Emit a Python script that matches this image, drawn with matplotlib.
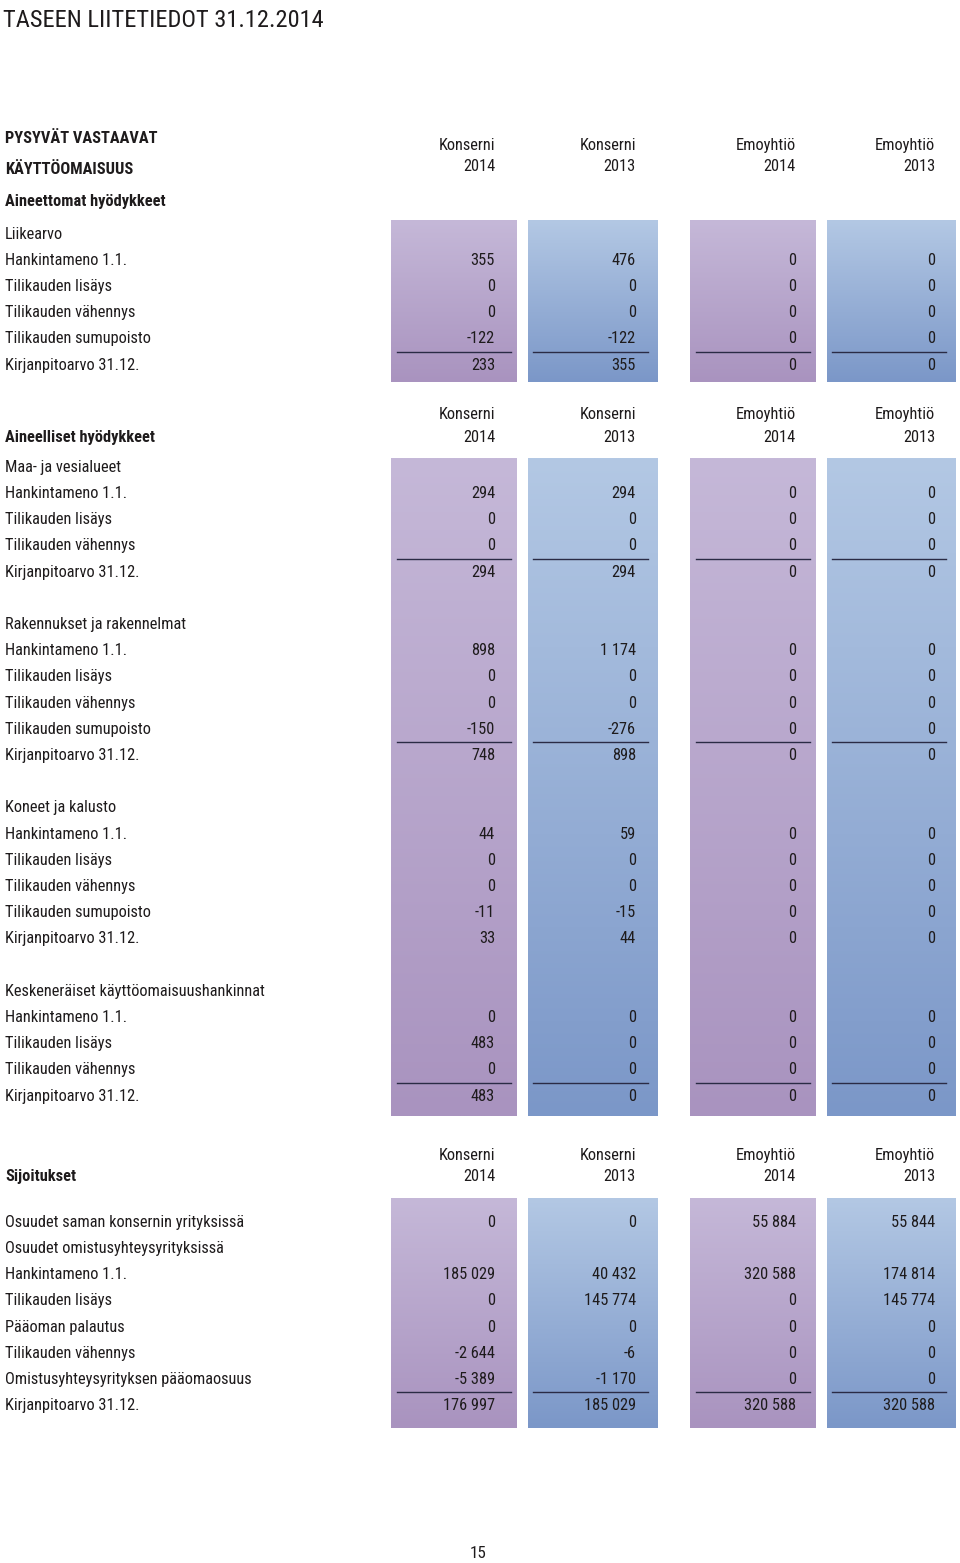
import numpy as np
import matplotlib
matplotlib.use("Agg")
import matplotlib.pyplot as plt
from matplotlib import font_manager
from matplotlib.colors import LinearSegmentedColormap

TITLE = "TASEEN LIITETIEDOT 31.12.2014"
PAGE = "15"

col_group = ["Konserni", "Konserni", "Emoyhtiö", "Emoyhtiö"]
col_year = ["2014", "2013", "2014", "2013"]

# section 1: aineettomat hyodykkeet / liikearvo
s1_heads = ["PYSYVÄT VASTAAVAT", "KÄYTTÖOMAISUUS", "Aineettomat hyödykkeet"]
liikearvo_labels = ["Hankintameno 1.1.", "Tilikauden lisäys", "Tilikauden vähennys",
                    "Tilikauden sumupoisto", "Kirjanpitoarvo 31.12."]
liikearvo_values = [[355, 476, 0, 0], [0, 0, 0, 0], [0, 0, 0, 0],
                    [-122, -122, 0, 0], [233, 355, 0, 0]]

# section 2: aineelliset hyodykkeet
maa_labels = ["Hankintameno 1.1.", "Tilikauden lisäys", "Tilikauden vähennys",
              "Kirjanpitoarvo 31.12."]
maa_values = [[294, 294, 0, 0], [0, 0, 0, 0], [0, 0, 0, 0], [294, 294, 0, 0]]

rak_labels = liikearvo_labels
rak_values = [[898, 1174, 0, 0], [0, 0, 0, 0], [0, 0, 0, 0],
              [-150, -276, 0, 0], [748, 898, 0, 0]]

kon_labels = liikearvo_labels
kon_values = [[44, 59, 0, 0], [0, 0, 0, 0], [0, 0, 0, 0],
              [-11, -15, 0, 0], [33, 44, 0, 0]]

kesk_labels = maa_labels
kesk_values = [[0, 0, 0, 0], [483, 0, 0, 0], [0, 0, 0, 0], [483, 0, 0, 0]]

# section 3: sijoitukset
sij_labels = ["Osuudet saman konsernin yrityksissä", "Osuudet omistusyhteysyrityksissä",
              "Hankintameno 1.1.", "Tilikauden lisäys", "Pääoman palautus",
              "Tilikauden vähennys", "Omistusyhteysyrityksen pääomaosuus",
              "Kirjanpitoarvo 31.12."]
sij_values = [[0, 0, 55884, 55844], None, [185029, 40432, 320588, 174814],
              [0, 145774, 0, 145774], [0, 0, 0, 0], [-2644, -6, 0, 0],
              [-5389, -1170, 0, 0], [176997, 185029, 320588, 320588]]

W, H = 960, 1563
STEP = 26.2
INK = "#1e1b1c"

box_x = [(391, 517), (528, 658), (690, 816), (827, 956)]
num_right = [495, 636, 796, 935]
rule_x = [(397, 511), (533, 648), (696, 810), (832, 946)]

purple = LinearSegmentedColormap.from_list("p", ["#c5b8d8", "#a993bf"])
blue = LinearSegmentedColormap.from_list("b", ["#b3c8e4", "#7b97c8"])


# the original uses a condensed face; look for one, else a plain sans
def pick_font():
    names = {f.name for f in font_manager.fontManager.ttflist}
    for n in ["Liberation Sans Narrow", "Roboto Condensed", "Open Sans Condensed",
              "DejaVu Sans Condensed", "Noto Sans Condensed"]:
        if n in names:
            return n, "normal"
    for f in font_manager.fontManager.ttflist:
        if f.name in ("Noto Sans", "Open Sans", "Roboto", "DejaVu Sans") and \
                str(f.stretch) in ("condensed", "semi-condensed", "extra-condensed"):
            return f.name, "condensed"
    return "Liberation Sans", "normal"


FAMILY, STRETCH = pick_font()
plt.rcParams['font.family'] = [FAMILY, 'DejaVu Sans']
plt.rcParams['font.stretch'] = STRETCH

fig = plt.figure(figsize=(W / 100, H / 100), dpi=100)
ax = fig.add_axes([0, 0, 1, 1])
ax.set_xlim(0, W)
ax.set_ylim(H, 0)
ax.axis("off")
renderer = fig.canvas.get_renderer()


def size_for(s, target_px, bold=False):
    t = ax.text(0, 0, s, fontsize=10, fontweight="bold" if bold else "normal")
    w = t.get_window_extent(renderer).width
    t.remove()
    return 10 * target_px / w


FS = min(13, size_for("Omistusyhteysyrityksen pääomaosuus", 246))
TS = min(25, size_for(TITLE, 318))


def fmt(v):
    s = f"{abs(v):,}".replace(",", " ")
    return ("-" + s) if v < 0 else s


def text(x, y, s, ha="left", bold=False, size=None):
    size = size or FS
    # y is the visual middle of the capitals
    off = 0.36 * size * 100 / 72
    ax.text(x, y + off, s, ha=ha, va="baseline", color=INK, fontsize=size,
            fontweight="bold" if bold else "normal")


def boxes(top, bottom):
    grad = np.linspace(0, 1, 256).reshape(-1, 1)
    for i, (x0, x1) in enumerate(box_x):
        cmap = purple if i % 2 == 0 else blue
        ax.imshow(grad, cmap=cmap, extent=(x0, x1, bottom, top),
                  aspect="auto", interpolation="bilinear", zorder=0)


def headers(y1, y2):
    for i in range(4):
        text(num_right[i], y1, col_group[i], ha="right")
        text(num_right[i], y2, col_year[i], ha="right")


def block(y, labels, values, rule=True):
    for j, lab in enumerate(labels):
        yy = y + j * STEP
        text(5, yy, lab)
        if values[j] is None:
            continue
        for i, v in enumerate(values[j]):
            text(num_right[i], yy, fmt(v), ha="right")
    if rule:
        ry = y + (len(labels) - 1.5) * STEP + 1
        for x0, x1 in rule_x:
            ax.plot([x0, x1], [ry, ry], color="#2a2b45", lw=1.0, zorder=2)
    return y + (len(labels) - 1) * STEP


text(3, 18, TITLE, size=TS)

# section 1
boxes(220, 382)
headers(144, 165)
for k, h in enumerate(s1_heads):
    text(5, 137 + k * 31.5, h, bold=True)
text(5, 233, "Liikearvo")
block(259, liikearvo_labels, liikearvo_values)

# section 2
boxes(458, 1116)
headers(413, 436)
text(5, 436, "Aineelliset hyödykkeet", bold=True)
y = 466
for title, labs, vals, rule in [("Maa- ja vesialueet", maa_labels, maa_values, True),
                                ("Rakennukset ja rakennelmat", rak_labels, rak_values, True),
                                ("Koneet ja kalusto", kon_labels, kon_values, False),
                                ("Keskeneräiset käyttöomaisuushankinnat", kesk_labels, kesk_values, True)]:
    text(5, y, title)
    last = block(y + STEP, labs, vals, rule)
    y = last + 2 * STEP

# section 3
boxes(1198, 1428)
headers(1154, 1175)
text(5, 1175, "Sijoitukset", bold=True)
block(1221, sij_labels, sij_values)

text(478, 1552, PAGE, ha="center", size=FS * 1.05)

fig.savefig("out.png", dpi=100, facecolor="white")
